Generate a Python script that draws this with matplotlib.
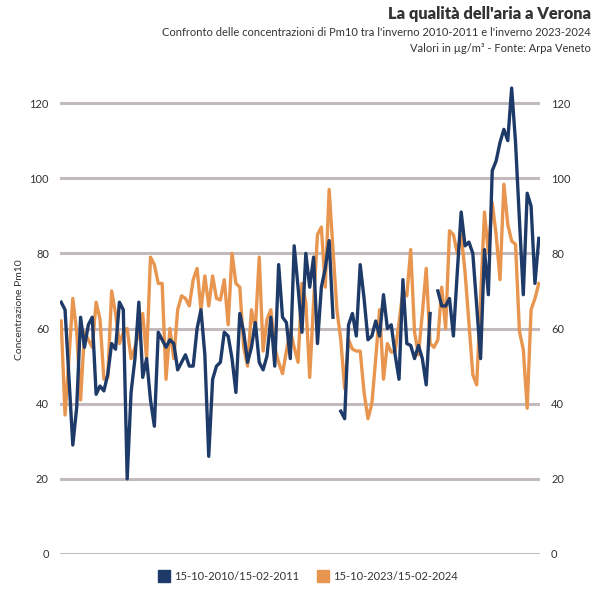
import numpy as np
import matplotlib
matplotlib.use("Agg")
import matplotlib.pyplot as plt
from matplotlib.lines import Line2D

nan = np.nan

labels = ["15-10-2010/15-02-2011", "15-10-2023/15-02-2024"]

winter_2010 = [67, 65, 47, 29, 39, 63, 55, 61, 63, 42.5, 44.7, 43.4, 47.8, 56, 54.5, 67, 65, 20, 43, 52,
               67, 47, 52, 41, 34, 59, 57, 55, 57, 56, 49, 51, 53, 50, 50, 60, 65, 53, 26, 46.5,
               50, 51, 59, 58, 52, 43, 64, 59, 51, 55, 61.6, 51, 49, 52.7, 63, 50, 77, 63, 61.6, 52,
               82, 71, 59, 80, 71, 79, 56, 71, 76, 83.4, 63, nan, 38, 36, 61, 64, 58, 77, 68, 57,
               58, 62, 58, 69, 60, 61, 53, 46.5, 73, 56, 55.5, 52, 55.5, 52, 45, 64, nan, 70, 66, 66,
               68, 58, 75, 91, 82, 83, 80, 66, 52, 81, 69, 102, 104.6, 109.5, 113, 110, 124, 109.5, 89, 69,
               96, 92.6, 72, 84]

winter_2023 = [62, 37, 52, 68, 59, 41, 59, 57, 55, 67, 62.5, 46.5, 47, 70, 64, 56, 59, 60, 52, 55,
               59, 64, 52, 79, 77, 72, 72, 46.5, 60, 52, 65, 68.7, 68, 66, 73, 76, 65, 74, 66, 74,
               68, 67.6, 73, 61, 80, 72, 71, 55, 50, 65, 60, 79, 54, 62.5, 65, 55, 51, 48, 54, 59.5,
               55, 51, 72, 67, 47, 67, 85, 87, 71, 97, 81, 65, 57, 44, 57, 54.5, 54, 54, 43, 36,
               40, 52, 65, 46.5, 56, 53.7, 54, 61.6, 70, 68.7, 81, 59, 53, 64, 76, 56, 55, 57, 71, 60,
               86, 85, 80, 85, 75, 61.5, 47.7, 45, 68, 91, 80, 93.5, 85, 73, 98.4, 87.7, 83.3, 82.4, 59.3, 54.4,
               38.8, 65, 68, 72]

yticks = [0, 20, 40, 60, 80, 100, 120]

BLUE = "#1d3a68"
ORANGE = "#e8964f"
GRID = "#c2babc"
TXT = "#333333"

plt.rcParams['font.family'] = ['Lato', 'DejaVu Sans']

fig = plt.figure(figsize=(5.97, 5.97), dpi=100)
ax = fig.add_axes([60/597, 43/597, 480/597, 473.5/597])

days = np.arange(len(winter_2010))
ax.plot(days, winter_2010, color=BLUE, lw=2.4, solid_joinstyle='round', zorder=3)
ax.plot(days, winter_2023, color=ORANGE, lw=2.4, solid_joinstyle='round', zorder=2)

ax.set_xlim(-0.3, len(days) - 0.7)
ax.set_ylim(0, 126)
ax.set_yticks(yticks)
ax.set_xticks([])
for s in ax.spines.values():
    s.set_visible(False)
ax.yaxis.grid(True, color=GRID, lw=2.2)
ax.set_axisbelow(True)
ax.tick_params(axis='y', length=0, pad=8, labelsize=8, labelcolor=TXT,
               labelleft=True, labelright=True)

fig.text(20/597, 1 - 310/597, "Concentrazione Pm10", rotation=90, ha='center', va='center',
         fontsize=7.5, color=TXT)

fig.text(591/597, 1 - 14/597, "La qualità dell'aria a Verona", ha='right', va='center',
         fontsize=11.8, fontweight='heavy', color=TXT)
fig.text(591/597, 1 - 32/597,
         "Confronto delle concentrazioni di Pm10 tra l'inverno 2010-2011 e l'inverno 2023-2024",
         ha='right', va='center', fontsize=8.0, color=TXT)
fig.text(591/597, 1 - 48/597, "Valori in µg/m³ - Fonte: Arpa Veneto", ha='right', va='center',
         fontsize=8.0, color=TXT)

handles = [Line2D([], [], marker='s', ls='none', markersize=9, color=BLUE),
           Line2D([], [], marker='s', ls='none', markersize=9, color=ORANGE)]
fig.legend(handles, labels, loc='center', bbox_to_anchor=(308/597, 1 - 576/597), ncol=2,
           frameon=False, fontsize=8, handletextpad=0.4, columnspacing=1.6,
           handlelength=1.0, labelcolor=TXT)

fig.savefig("out.png", dpi=100)
